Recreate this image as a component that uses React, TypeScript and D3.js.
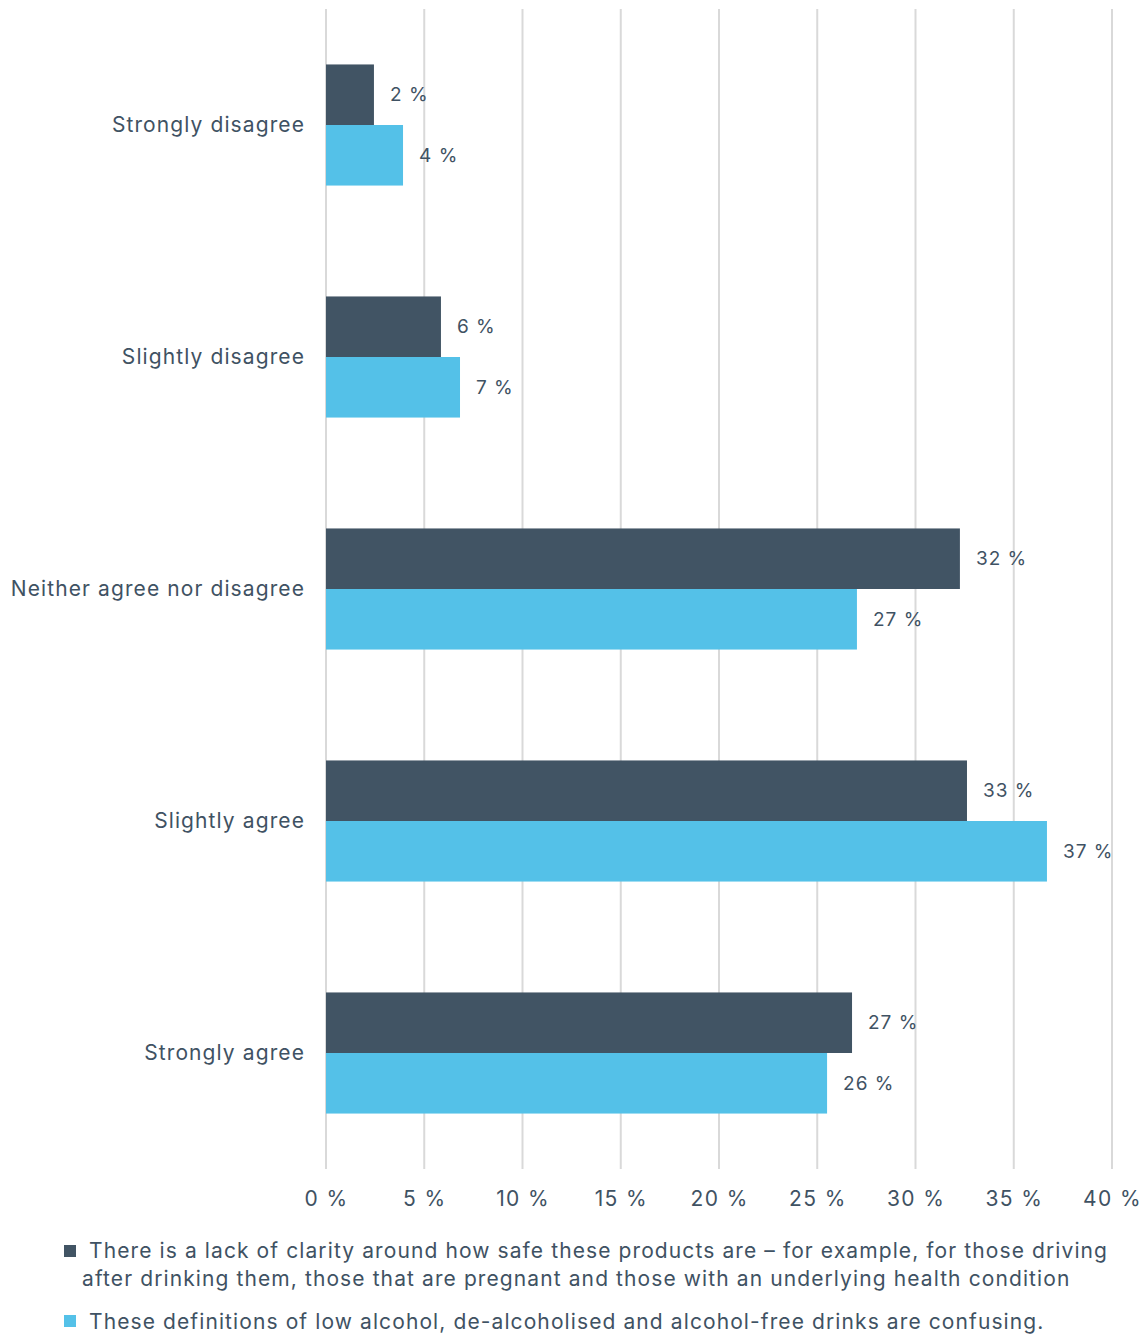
import React from "react";
import * as d3 from "d3";

const categories = ["Strongly disagree", "Slightly disagree", "Neither agree nor disagree", "Slightly agree", "Strongly agree"];
const seriesNames = [
  "There is a lack of clarity around how safe these products are – for example, for those driving after drinking them, those that are pregnant and those with an underlying health condition",
  "These definitions of low alcohol, de-alcoholised and alcohol-free drinks are confusing.",
];
const seriesA = [2.44, 5.85, 32.26, 32.62, 26.77];
const seriesB = [3.92, 6.82, 27.02, 36.69, 25.5];
const xTicks = [0, 5, 10, 15, 20, 25, 30, 35, 40];
const colors = ["#415464", "#54c1e8"];
const legendLines1 = [
  " There is a lack of clarity around how safe these products are – for example, for those driving",
  "after drinking them, those that are pregnant and those with an underlying health condition",
];
const legendLines2 = [" These definitions of low alcohol, de-alcoholised and alcohol-free drinks are confusing."];

const TEXT = "#3f5263";
const FONT = "Inter, 'Noto Sans', sans-serif";
const LS = "1.1px";

export default function App() {
  const W = 1144, H = 1335;
  const x = d3.scaleLinear().domain([0, 40]).range([326, 1112]);
  const y = d3.scaleBand<string>().domain(categories).range([9, 1169]).paddingInner(0.478).paddingOuter(0.239);
  const barH = y.bandwidth() / 2;
  const series = [seriesA, seriesB];
  return (
    <div style={{ position: "absolute", left: 0, top: 0 }}>
      <svg width={W} height={H} style={{ display: "block", fontFamily: FONT, letterSpacing: LS }}>
        <rect width={W} height={H} fill="#fff" />
        {xTicks.map((t) => (
          <g key={t}>
            <line x1={x(t)} x2={x(t)} y1={9} y2={1169} stroke="#d9d9d9" strokeWidth={2} />
            <text x={x(t) + 0.6} y={1206} textAnchor="middle" fontSize={21} fill={TEXT} letterSpacing="1.4px">{t} %</text>
          </g>
        ))}
        {categories.map((c, i) => {
          const y0 = y(c)!;
          return (
            <g key={c}>
              <text x={305} y={y0 + barH} dy="0.35em" textAnchor="end" fontSize={21} fill={TEXT}>{c}</text>
              {series.map((s, k) => (
                <g key={k}>
                  <rect x={x(0)} y={y0 + k * barH} width={x(s[i]) - x(0)} height={barH} fill={colors[k]} />
                  <text x={x(s[i]) + 16} y={y0 + k * barH + barH / 2} dy="0.35em" fontSize={19} fill={TEXT} letterSpacing="1px">
                    {Math.round(s[i])} %
                  </text>
                </g>
              ))}
            </g>
          );
        })}
        <rect x={64} y={1245} width={12} height={12} fill={colors[0]} />
        <text fontSize={21} fill={TEXT}>
          <tspan x={82} y={1258} xmlSpace="preserve">{legendLines1[0]}</tspan>
          <tspan x={82} y={1286}>{legendLines1[1]}</tspan>
        </text>
        <rect x={64} y={1315} width={12} height={12} fill={colors[1]} />
        <text fontSize={21} fill={TEXT}>
          <tspan x={82} y={1329} xmlSpace="preserve">{legendLines2[0]}</tspan>
        </text>
      </svg>
    </div>
  );
}
